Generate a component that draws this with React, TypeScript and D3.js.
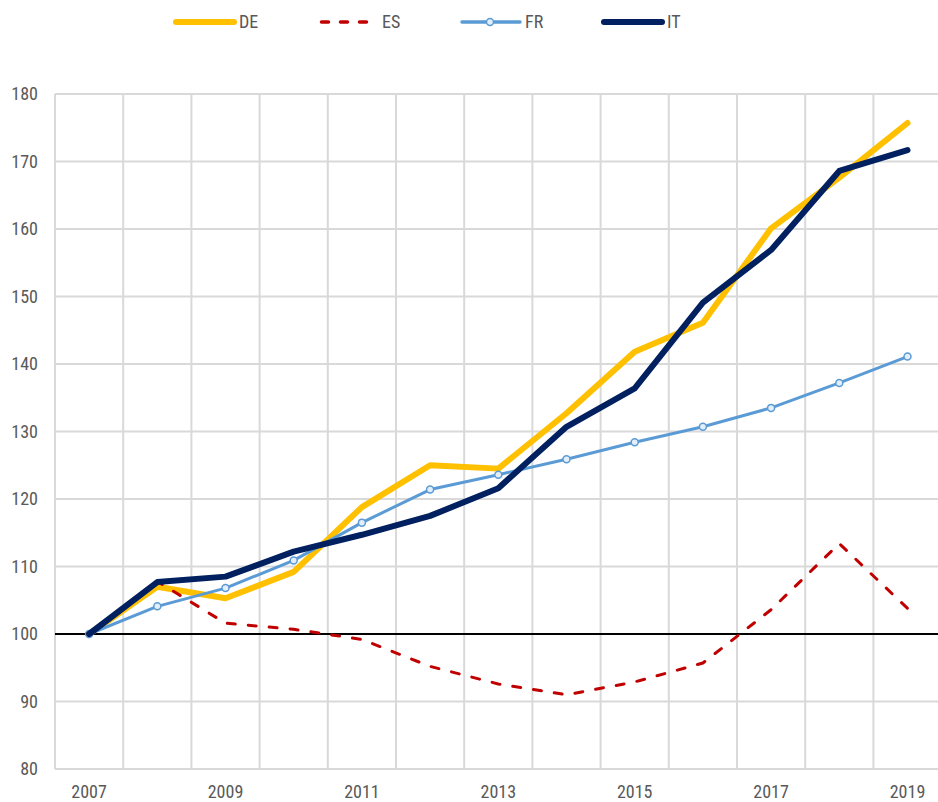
import React, { useEffect, useRef } from 'react';
import * as d3 from 'd3';

const years = ['2007', '2008', '2009', '2010', '2011', '2012', '2013', '2014', '2015', '2016', '2017', '2018', '2019'];
const deValues = [100, 107.0, 105.3, 109.2, 118.8, 125.0, 124.5, 132.7, 141.8, 146.1, 160.1, 167.6, 175.7];
const esValues = [100, 107.8, 101.6, 100.7, 99.2, 95.2, 92.6, 91.0, 92.9, 95.7, 103.6, 113.4, 103.8];
const frValues = [100, 104.1, 106.8, 110.9, 116.5, 121.4, 123.6, 125.9, 128.4, 130.7, 133.5, 137.2, 141.1];
const itValues = [100, 107.7, 108.5, 112.2, 114.7, 117.5, 121.6, 130.7, 136.4, 149.1, 156.9, 168.6, 171.7];
const yTicks = [80, 90, 100, 110, 120, 130, 140, 150, 160, 170, 180];
const xLabels = ['2007', '2009', '2011', '2013', '2015', '2017', '2019'];

const series = [
  { name: 'DE', values: deValues, color: '#FFC000', width: 6, dash: null, marker: false },
  { name: 'ES', values: esValues, color: '#C00000', width: 3, dash: '8,13', marker: false },
  { name: 'FR', values: frValues, color: '#5B9BD5', width: 3, dash: null, marker: true },
  { name: 'IT', values: itValues, color: '#002060', width: 6, dash: null, marker: false },
];

const font = '"Liberation Sans Narrow", "Roboto Condensed", Roboto, sans-serif';

const App = () => {
  const ref = useRef<SVGSVGElement>(null);

  useEffect(() => {
    const svg = d3.select(ref.current);
    svg.selectAll('*').remove();

    const left = 55;
    const step = 68.2;
    const x = d3.scaleBand().domain(years).range([left, left + step * years.length]).padding(0);
    const y = d3.scaleLinear().domain([80, 180]).range([769, 94]);
    const right = 938;

    // grid
    const grid = svg.append('g');
    grid
      .selectAll('.hgrid')
      .data(yTicks)
      .enter()
      .append('line')
      .attr('x1', left)
      .attr('x2', right)
      .attr('y1', (d) => y(d))
      .attr('y2', (d) => y(d))
      .attr('stroke', '#d9d9d9')
      .attr('stroke-width', 2);
    grid
      .selectAll('.vgrid')
      .data(years)
      .enter()
      .append('line')
      .attr('x1', (d) => x(d)!)
      .attr('x2', (d) => x(d)!)
      .attr('y1', y(80))
      .attr('y2', y(180))
      .attr('stroke', '#d9d9d9')
      .attr('stroke-width', 2);

    // baseline at 100
    svg
      .append('line')
      .attr('x1', left)
      .attr('x2', right)
      .attr('y1', y(100))
      .attr('y2', y(100))
      .attr('stroke', '#000')
      .attr('stroke-width', 2);

    // y labels
    svg
      .selectAll('.ylab')
      .data(yTicks)
      .enter()
      .append('text')
      .attr('x', 38)
      .attr('y', (d) => y(d) + 6)
      .attr('text-anchor', 'end')
      .attr('font-family', font)
      .attr('font-size', 18)
      .attr('fill', '#595959')
      .text((d) => d);

    // x labels
    svg
      .selectAll('.xlab')
      .data(xLabels)
      .enter()
      .append('text')
      .attr('x', (d) => x(d)! + x.bandwidth() / 2)
      .attr('y', 798)
      .attr('text-anchor', 'middle')
      .attr('font-family', font)
      .attr('font-size', 18)
      .attr('fill', '#595959')
      .text((d) => d);

    const line = d3
      .line<number>()
      .x((_, i) => x(years[i])! + x.bandwidth() / 2)
      .y((d) => y(d));

    series.forEach((s) => {
      svg
        .append('path')
        .attr('d', line(s.values))
        .attr('fill', 'none')
        .attr('stroke', s.color)
        .attr('stroke-width', s.width)
        .attr('stroke-linejoin', 'round')
        .attr('stroke-linecap', 'round')
        .attr('stroke-dasharray', s.dash);
      if (s.marker) {
        svg
          .selectAll('.m' + s.name)
          .data(s.values)
          .enter()
          .append('circle')
          .attr('cx', (_, i) => x(years[i])! + x.bandwidth() / 2)
          .attr('cy', (d) => y(d))
          .attr('r', 3.5)
          .attr('fill', '#e4eef8')
          .attr('stroke', s.color)
          .attr('stroke-width', 1.5);
      }
    });

    // legend
    const legendX = [176, 320, 462, 604];
    const legend = svg.append('g');
    series.forEach((s, i) => {
      const lx = legendX[i];
      legend
        .append('line')
        .attr('x1', lx + (s.dash ? 1.5 : 0))
        .attr('x2', lx + (s.dash ? 48 : 58))
        .attr('y1', 22)
        .attr('y2', 22)
        .attr('stroke', s.color)
        .attr('stroke-width', s.width === 6 ? 6 : 3.5)
        .attr('stroke-linecap', 'round')
        .attr('stroke-dasharray', s.dash ? '7,12' : null);
      if (s.marker) {
        legend
          .append('circle')
          .attr('cx', lx + 28)
          .attr('cy', 22)
          .attr('r', 3.5)
          .attr('fill', '#e4eef8')
          .attr('stroke', s.color)
          .attr('stroke-width', 1.5);
      }
      legend
        .append('text')
        .attr('x', lx + (s.dash ? 62 : 63))
        .attr('y', 28)
        .attr('font-family', font)
        .attr('font-size', 18)
        .attr('fill', '#595959')
        .text(s.name);
    });
  }, []);

  return (
    <svg
      ref={ref}
      width={938}
      height={802}
      style={{ position: 'absolute', left: 0, top: 0, background: '#fff', display: 'block' }}
    />
  );
};

export default App;
